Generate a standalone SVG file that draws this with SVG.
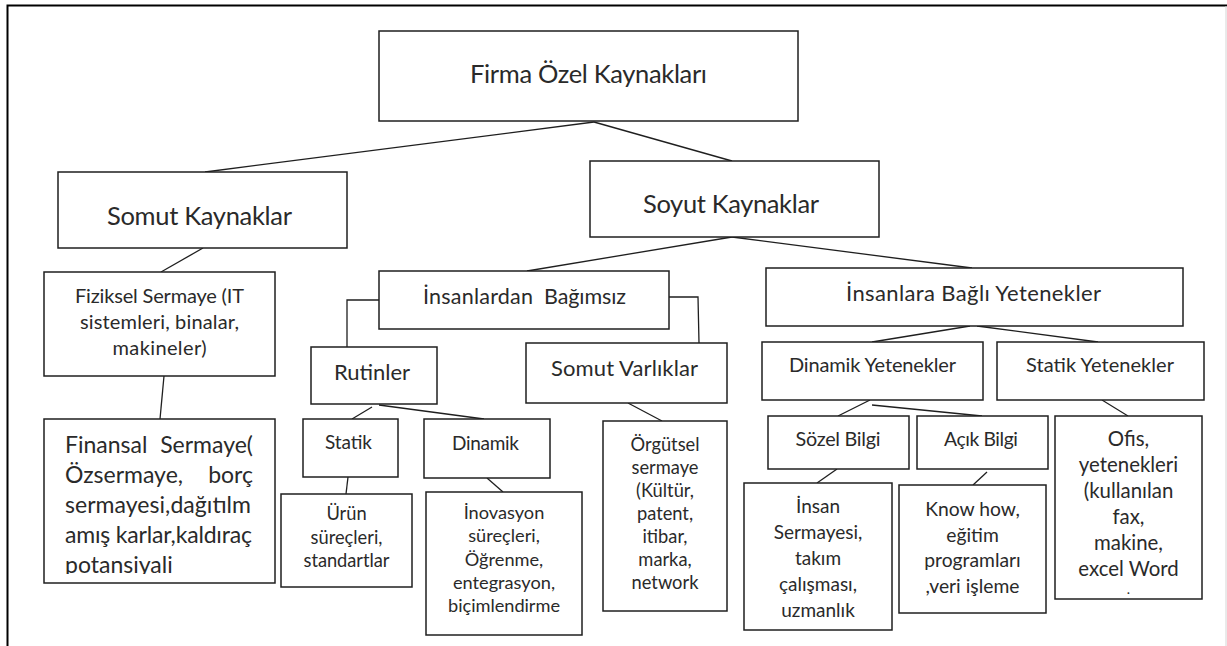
<svg xmlns="http://www.w3.org/2000/svg" width="1227" height="646" viewBox="0 0 1227 646">
<style>
.b{fill:#fff;stroke:#1f1f1f;stroke-width:1.5}
.c{fill:none;stroke:#1f1f1f;stroke-width:1.3}
text{font-family:Lato,"Open Sans","Liberation Sans",sans-serif;fill:#2a2a2a}
.m{text-anchor:middle}
</style>
<defs>
<clipPath id="finclip"><rect x="44" y="419" width="231" height="155"/></clipPath>
</defs>
<rect width="1227" height="646" fill="#fff"/>
<path d="M7.5,646 V5.5 H1227" fill="none" stroke="#000" stroke-width="2"/>
<line x1="1226" y1="6" x2="1226" y2="646" stroke="#d4d4d4" stroke-width="1"/>
<g id="connectors">
<line class="c" x1="594" y1="122" x2="205" y2="172"/>
<line class="c" x1="594" y1="122" x2="732" y2="161"/>
<line class="c" x1="203" y1="248" x2="161" y2="272"/>
<line class="c" x1="164" y1="376" x2="160" y2="419"/>
<line class="c" x1="732" y1="237" x2="527" y2="271"/>
<line class="c" x1="732" y1="237" x2="972" y2="268"/>
<polyline class="c" points="379,300 347,300 347,347"/>
<polyline class="c" points="669,297 698,297 699,343"/>
<line class="c" x1="372" y1="407" x2="352" y2="419"/>
<line class="c" x1="379" y1="405" x2="484" y2="419"/>
<line class="c" x1="628" y1="403" x2="662" y2="421"/>
<line class="c" x1="970" y1="326" x2="872" y2="342"/>
<line class="c" x1="977" y1="326" x2="1098" y2="342"/>
<line class="c" x1="870" y1="400" x2="838" y2="416"/>
<line class="c" x1="872" y1="405" x2="982" y2="416"/>
<line class="c" x1="1102" y1="400" x2="1128" y2="416"/>
<line class="c" x1="348" y1="477" x2="346" y2="494"/>
<line class="c" x1="487" y1="478" x2="503" y2="492"/>
<line class="c" x1="837" y1="469" x2="817" y2="483"/>
<line class="c" x1="987" y1="472" x2="973" y2="485"/>
</g>
<g id="firma">
<rect class="b" x="379" y="31" width="419" height="90"/>
<text class="m" x="588.5" y="83" font-size="25.5" textLength="237">Firma Özel Kaynakları</text>
</g>
<g id="somut">
<rect class="b" x="58" y="172" width="289" height="76"/>
<text class="m" x="199.5" y="225" font-size="25.5" textLength="185">Somut Kaynaklar</text>
</g>
<g id="soyut">
<rect class="b" x="590" y="161" width="289" height="76"/>
<text class="m" x="731" y="213" font-size="25.5" textLength="176">Soyut Kaynaklar</text>
</g>
<g id="fiziksel">
<rect class="b" x="44" y="272" width="231" height="104"/>
<text class="m" font-size="20"><tspan x="159.5" y="303" textLength="169">Fiziksel Sermaye (IT</tspan><tspan x="159.5" y="329" textLength="159">sistemleri, binalar,</tspan><tspan x="159.5" y="355" textLength="94">makineler)</tspan></text>
</g>
<g id="finansal">
<rect class="b" x="44" y="419" width="231" height="164"/>
<g clip-path="url(#finclip)" font-size="23">
<text x="65" y="453">Finansal</text>
<text x="253" y="453" text-anchor="end">Sermaye(</text>
<text x="65" y="483">Özsermaye,</text>
<text x="253" y="483" text-anchor="end">borç</text>
<text x="65" y="513" textLength="186">sermayesi,dağıtılm</text>
<text x="65" y="543" textLength="187">amış karlar,kaldıraç</text>
<text x="65" y="573">potansiyali</text>
</g>
</g>
<g id="insanlardan">
<rect class="b" x="379" y="271" width="290" height="58"/>
<text y="304" font-size="21.5"><tspan x="423" textLength="110">İnsanlardan</tspan><tspan x="544" textLength="82">Bağımsız</tspan></text>
</g>
<g id="insanlara">
<rect class="b" x="766" y="268" width="417" height="58"/>
<text class="m" x="973.5" y="301" font-size="22" textLength="255">İnsanlara Bağlı Yetenekler</text>
</g>
<g id="rutinler">
<rect class="b" x="311" y="347" width="126" height="57"/>
<text class="m" x="372" y="380" font-size="22" textLength="76">Rutinler</text>
</g>
<g id="somutvarliklar">
<rect class="b" x="526" y="343" width="201" height="60"/>
<text class="m" x="624.5" y="376" font-size="22" textLength="147">Somut Varlıklar</text>
</g>
<g id="dinamikyetenekler">
<rect class="b" x="762" y="342" width="221" height="58"/>
<text class="m" x="872.5" y="372" font-size="20" textLength="167">Dinamik Yetenekler</text>
</g>
<g id="statikyetenekler">
<rect class="b" x="997" y="342" width="207" height="58"/>
<text class="m" x="1100" y="372" font-size="20" textLength="148">Statik Yetenekler</text>
</g>
<g id="statik">
<rect class="b" x="303" y="419" width="95" height="58"/>
<text class="m" x="348.5" y="449" font-size="19" textLength="47">Statik</text>
</g>
<g id="dinamik">
<rect class="b" x="424" y="419" width="126" height="59"/>
<text class="m" x="485.5" y="450" font-size="19" textLength="67">Dinamik</text>
</g>
<g id="urun">
<rect class="b" x="281" y="494" width="131" height="93"/>
<text class="m" font-size="18.3"><tspan x="346.5" y="520">Ürün</tspan><tspan x="346.5" y="543.5">süreçleri,</tspan><tspan x="346.5" y="567" textLength="86">standartlar</tspan></text>
</g>
<g id="inovasyon">
<rect class="b" x="426" y="492" width="156" height="143"/>
<text class="m" font-size="18.2"><tspan x="504" y="519">İnovasyon</tspan><tspan x="504" y="542.3">süreçleri,</tspan><tspan x="504" y="565.6">Öğrenme,</tspan><tspan x="504" y="589">entegrasyon,</tspan><tspan x="504" y="612" textLength="112">biçimlendirme</tspan></text>
</g>
<g id="orgutsel">
<rect class="b" x="603" y="421" width="124" height="190"/>
<text class="m" font-size="18.3"><tspan x="665" y="451">Örgütsel</tspan><tspan x="665" y="474">sermaye</tspan><tspan x="665" y="497">(Kültür,</tspan><tspan x="665" y="520">patent,</tspan><tspan x="665" y="543">itibar,</tspan><tspan x="665" y="566">marka,</tspan><tspan x="665" y="589">network</tspan></text>
</g>
<g id="sozel">
<rect class="b" x="768" y="416" width="141" height="53"/>
<text class="m" x="838" y="446" font-size="19.8" textLength="85">Sözel Bilgi</text>
</g>
<g id="acik">
<rect class="b" x="917" y="416" width="131" height="53"/>
<text class="m" x="981" y="446" font-size="19.3" textLength="74">Açık Bilgi</text>
</g>
<g id="ofis">
<rect class="b" x="1055" y="416" width="147" height="183"/>
<text class="m" font-size="20.4"><tspan x="1128.5" y="446">Ofis,</tspan><tspan x="1128.5" y="472">yetenekleri</tspan><tspan x="1128.5" y="498">(kullanılan</tspan><tspan x="1128.5" y="524">fax,</tspan><tspan x="1128.5" y="550">makine,</tspan><tspan x="1128.5" y="576">excel Word</tspan></text>
<text class="m" x="1128.5" y="594" font-size="14">.</text>
</g>
<g id="insansermayesi">
<rect class="b" x="744" y="483" width="148" height="147"/>
<text class="m" font-size="19"><tspan x="818" y="513">İnsan</tspan><tspan x="818" y="539">Sermayesi,</tspan><tspan x="818" y="565">takım</tspan><tspan x="818" y="591">çalışması,</tspan><tspan x="818" y="617">uzmanlık</tspan></text>
</g>
<g id="knowhow">
<rect class="b" x="899" y="485" width="147" height="128"/>
<text class="m" font-size="19.3"><tspan x="972.5" y="516">Know how,</tspan><tspan x="972.5" y="541.5">eğitim</tspan><tspan x="972.5" y="567">programları</tspan><tspan x="972.5" y="592.5">,veri işleme</tspan></text>
</g>
</svg>
